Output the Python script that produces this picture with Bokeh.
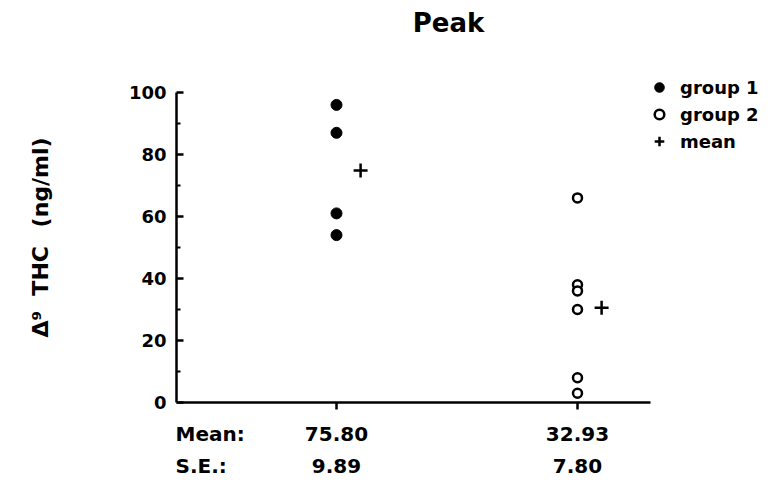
import math
from bokeh.plotting import figure
from bokeh.models import Label, Legend, LegendItem, FixedTicker, Range1d, ColumnDataSource
from bokeh.embed import file_html
from bokeh.resources import INLINE

# ---- data ----
group_x = [1, 2]
group1 = [96, 87, 61, 54]
group2 = [66, 38, 36, 30, 8, 3]
mean_marker = [74.8, 30.6]
mean_labels = ["75.80", "32.93"]
se_labels = ["9.89", "7.80"]
y_ticks = [0, 20, 40, 60, 80, 100]
y_minor = [10, 30, 50, 70, 90]
mean_offset = 0.1

FONT = "DejaVu Sans"

W, H = 763, 477
PX_X = 241.0   # pixels per x unit
PX_Y = 3.1     # pixels per y unit
X0_PX, Y0_PX = 336, 402   # pixel of x=1 / y=0

def dx(px):
    return 1 + (px - X0_PX) / PX_X

def dy(py):
    return (Y0_PX - py) / PX_Y

p = figure(width=W, height=H, x_range=Range1d(dx(0), dx(W)), y_range=Range1d(dy(H), dy(0)),
           output_backend="svg", toolbar_location=None, title=None,
           min_border=0, min_border_left=0, min_border_right=0, min_border_top=0, min_border_bottom=0)
p.outline_line_color = None
p.grid.visible = False

s1 = ColumnDataSource(dict(x=[group_x[0]] * len(group1), y=group1))
s2 = ColumnDataSource(dict(x=[group_x[1]] * len(group2), y=group2))
sm = ColumnDataSource(dict(x=[g + mean_offset for g in group_x], y=mean_marker))

r1 = p.scatter("x", "y", source=s1, marker="circle", size=11, fill_color="black", line_color="black")
r2 = p.scatter("x", "y", source=s2, marker="circle", size=9, fill_color="white", line_color="black", line_width=2.5)
r3 = p.scatter("x", "y", source=sm, marker="cross", size=14, line_color="black", line_width=2.5)

x_left, x_right = dx(176), dx(650)

# axes
ya = p.yaxis[0]
ya.fixed_location = x_left
ya.bounds = (y_ticks[0], y_ticks[-1])
ya.ticker = FixedTicker(ticks=y_ticks, minor_ticks=y_minor)
ya.axis_line_width = 2.5
ya.major_tick_in = 7
ya.major_tick_out = 0
ya.minor_tick_in = 4
ya.minor_tick_out = 0
ya.major_tick_line_width = 2.5
ya.minor_tick_line_width = 2
ya.major_label_text_font = FONT
ya.major_label_text_font_style = "bold"
ya.major_label_text_font_size = "18px"
ya.major_label_text_color = "black"
ya.major_label_standoff = 10

xa = p.xaxis[0]
xa.fixed_location = 0
xa.bounds = (x_left, x_right)
xa.ticker = FixedTicker(ticks=group_x, minor_ticks=[])
xa.axis_line_width = 2.5
xa.major_tick_in = 0
xa.major_tick_out = 7
xa.major_tick_line_width = 2.5
xa.major_label_overrides = {g: "" for g in group_x}

# legend (location in pixels from frame bottom-left)
legend = Legend(items=[LegendItem(label="group 1", renderers=[r1]),
                       LegendItem(label="group 2", renderers=[r2]),
                       LegendItem(label="mean", renderers=[r3])],
                location=(647, H - 153), orientation="vertical",
                background_fill_alpha=0, border_line_alpha=0, padding=0, margin=0,
                spacing=3, label_standoff=9, glyph_width=24, glyph_height=24, label_height=24,
                label_text_font=FONT, label_text_font_style="bold", label_text_font_size="18px",
                label_text_color="black")
p.add_layout(legend, "center")

def lab(x, y, text, size, align="center", angle=0):
    p.add_layout(Label(x=x, y=y, text=text, text_font=FONT, text_font_style="bold",
                       text_font_size=size, text_align=align, text_baseline="middle",
                       text_color="black", angle=angle))

lab(dx(448), dy(22), "Peak", "26px")
lab(dx(40), dy(237), "Δ⁹\u00a0 THC\u2002\u00a0(ng/ml)", "22px", angle=math.pi / 2)
lab(dx(175), dy(433), "Mean:", "20px", align="left")
lab(dx(175), dy(465), "S.E.:", "20px", align="left")
for g, m, s in zip(group_x, mean_labels, se_labels):
    lab(g, dy(433), m, "20px")
    lab(g, dy(465), s, "20px")

open("out.html", "w").write(file_html(p, INLINE))
